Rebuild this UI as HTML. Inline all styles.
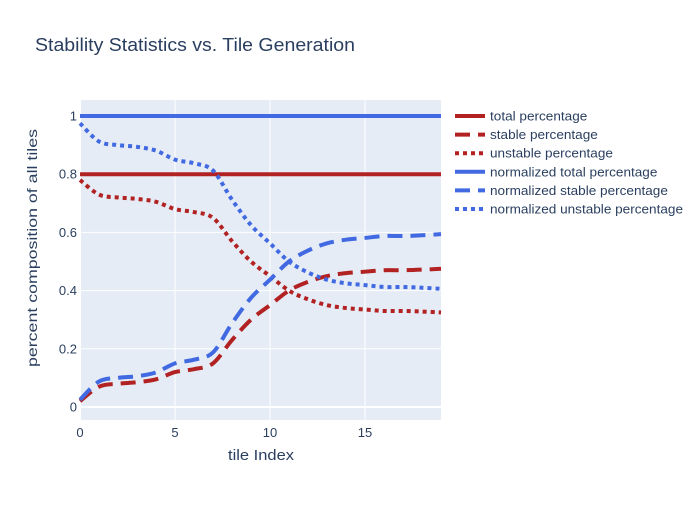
<!DOCTYPE html>
<html><head><meta charset="utf-8"><style>
body{margin:0;background:#fff;font-family:"Liberation Sans",Arial,sans-serif;}
svg text{font-family:"Liberation Sans",Arial,sans-serif;fill:#2a3f5f;}
</style></head><body>
<svg id="c" width="700" height="500">
<rect x="0" y="0" width="700" height="500" fill="#fff"/>
<text x="35" y="51" font-size="18" textLength="320" lengthAdjust="spacingAndGlyphs">Stability Statistics vs. Tile Generation</text>
<rect x="80" y="100" width="361" height="320" fill="#e5ecf6"/>
<g id="grid"></g><g id="series"></g><g id="axes"></g><g id="legend"></g>
<text x="228" y="460" font-size="15" textLength="66" lengthAdjust="spacingAndGlyphs">tile Index</text>
<text transform="translate(37,367) rotate(-90)" font-size="14" textLength="238" lengthAdjust="spacingAndGlyphs">percent composition of all tiles</text>
</svg>
<script>
const xs=[0,1,2,3,4,5,6,7,8,9,10,11,12,13,14,15,16,17,18,19];
const total=[0.8,0.8,0.8,0.8,0.8,0.8,0.8,0.8,0.8,0.8,0.8,0.8,0.8,0.8,0.8,0.8,0.8,0.8,0.8,0.8];
const stable=[0.02,0.07,0.08,0.085,0.095,0.12,0.13,0.15,0.23,0.3,0.35,0.4,0.43,0.45,0.46,0.465,0.47,0.47,0.472,0.475];
const unstable=[0.78,0.73,0.72,0.715,0.705,0.68,0.67,0.65,0.57,0.5,0.45,0.4,0.37,0.35,0.34,0.335,0.33,0.33,0.328,0.325];
const nTotal=[1,1,1,1,1,1,1,1,1,1,1,1,1,1,1,1,1,1,1,1];
const nStable=[0.025,0.0875,0.1,0.106,0.119,0.15,0.1625,0.1875,0.2875,0.375,0.4375,0.5,0.5375,0.5625,0.575,0.581,0.5875,0.5875,0.59,0.594];
const nUnstable=[0.975,0.9125,0.9,0.894,0.881,0.85,0.8375,0.8125,0.7125,0.625,0.5625,0.5,0.4625,0.4375,0.425,0.419,0.4125,0.4125,0.41,0.406];
const xTicks=[0,5,10,15];
const yTicks=[0,0.2,0.4,0.6,0.8,1];
const yTickLabels=["0","0.2","0.4","0.6","0.8","1"];
const names=["total percentage","stable percentage","unstable percentage","normalized total percentage","normalized stable percentage","normalized unstable percentage"];
const NS="http://www.w3.org/2000/svg";
const X=v=>80+v*19, Y=v=>407-v*291;
function mk(t,a,p){const e=document.createElementNS(NS,t);for(const k in a)e.setAttribute(k,a[k]);p.appendChild(e);return e;}
const grid=document.getElementById('grid'),axes=document.getElementById('axes'),ser=document.getElementById('series'),leg=document.getElementById('legend');
xTicks.forEach(t=>{const l=mk('line',{x1:X(t),x2:X(t),y1:100,y2:420,stroke:'#fff','stroke-width':t==0?2:1},grid);

const tx=mk('text',{x:X(t),y:437,'font-size':13,'text-anchor':'middle'},axes);tx.textContent=t;
});
yTicks.forEach((t,i)=>{const l=mk('line',{x1:80,x2:441,y1:Y(t),y2:Y(t),stroke:'#fff','stroke-width':t==0?2:1},grid);

const tx=mk('text',{x:77,y:Y(t)+4.5,'font-size':13,'text-anchor':'end'},axes);tx.textContent=yTickLabels[i];
});
function spline(d){const p=xs.map((x,i)=>[X(x),Y(d[i])]);let s='M'+p[0][0]+','+p[0][1];
for(let i=0;i<p.length-1;i++){const p0=p[i-1]||p[i],p1=p[i],p2=p[i+1],p3=p[i+2]||p2;
const c1=[p1[0]+(p2[0]-p0[0])/6,p1[1]+(p2[1]-p0[1])/6],c2=[p2[0]-(p3[0]-p1[0])/6,p2[1]-(p3[1]-p1[1])/6];
s+=' C'+c1+' '+c2+' '+p2;}return s;}
const data=[total,stable,unstable,nTotal,nStable,nUnstable];
const cols=['#b22222','#b22222','#b22222','#4169e1','#4169e1','#4169e1'];
const dash=['none','15,8','4,4','none','15,8','4,4'];
const sn=['total-line','stable-line','unstable-line','normalized-total-line','normalized-stable-line','normalized-unstable-line'];
data.forEach((d,i)=>{const p=mk('path',{d:spline(d),fill:'none',stroke:cols[i],'stroke-width':4,'stroke-dasharray':dash[i]},ser);
});
const texts=[];
names.forEach((n,i)=>{const y=116+i*18.6;const g=mk('g',{},leg);

mk('line',{x1:455,x2:485,y1:y,y2:y,stroke:cols[i],'stroke-width':4,'stroke-dasharray':dash[i]},g);
const t=mk('text',{x:490,y:y+4.5,'font-size':13},g);t.textContent=n;texts.push(t);});
const ws=texts.map(t=>t.getComputedTextLength());const f=193/Math.max(...ws);
texts.forEach((t,i)=>{t.setAttribute('textLength',(ws[i]*f).toFixed(1));t.setAttribute('lengthAdjust','spacingAndGlyphs');});
</script>
</body></html>
